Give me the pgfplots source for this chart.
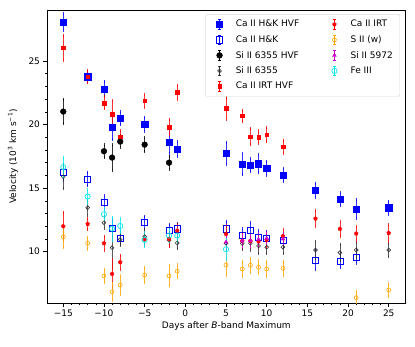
\documentclass[border=0pt]{standalone}
\usepackage{fontspec}
\setmainfont{DejaVu Sans}
\usepackage{pgfplots}
\pgfplotsset{compat=1.18}
\usetikzlibrary{plotmarks}

\definecolor{mplorange}{RGB}{255,165,0}
\definecolor{mplmag}{RGB}{200,0,200}
\definecolor{mplcyan}{RGB}{0,230,240}

% one style per line species
\pgfplotsset{
  sHKH/.style={blue, mark=square*, mark size=3.1pt},
  sHK/.style={blue, mark=square, mark size=3.1pt, mark options={line width=0.6pt}},
  sSiH/.style={black, mark=*, mark size=2.9pt},
  sSi/.style={black!80, mark=o, mark size=1.9pt, mark options={line width=0.6pt}},
  sIRTH/.style={red, mark=square*, mark size=1.8pt},
  sIRT/.style={red, mark=pentagon*, mark size=2pt},
  sSII/.style={mplorange, mark=o, mark size=2pt, mark options={line width=0.6pt}},
  sSi59/.style={mplmag, mark=triangle*, mark size=2.2pt},
  sFe/.style={mplcyan, mark=o, mark size=2.6pt, mark options={line width=0.7pt}},
  errs/.style={only marks, forget plot,
    error bars/.cd, y dir=both, y explicit,
    error bar style={line width=0.7pt, opacity=0.8},
    error mark options={mark size=1.5pt, line width=0.6pt}},
}

\begin{document}
\begin{tikzpicture}
\useasboundingbox (-47pt,-43pt) rectangle (368pt,303pt);
\begin{axis}[
  scale only axis, width=358pt, height=293pt,
  xmin=-17, xmax=27, ymin=5.96, ymax=29.01,
  xtick={-15,-10,-5,0,5,10,15,20,25},
  xticklabels={−15,−10,−5,0,5,10,15,20,25},
  ytick={10,15,20,25},
  yticklabels={10,15,20,25},
  minor x tick num=4, minor y tick num=4,
  tick pos=left, tick align=outside,
  major tick length=3.5pt, minor tick length=2pt,
  tick style={black, line width=0.6pt},
  axis line style={line width=0.8pt},
  tick label style={font=\fontsize{9}{10}\selectfont},
  label style={font=\fontsize{9}{10}\selectfont},
  xlabel={Days after \textit{B}-band Maximum},
  ylabel={Velocity (10\textsuperscript{3} km s\textsuperscript{−1})},
  xlabel style={at={(axis description cs:0.501,-0.0785)}, anchor=center},
  ylabel style={at={(axis description cs:-0.095,0.5)}, anchor=center},
  legend columns=2,
  legend cell align=left,
  legend style={at={(axis description cs:0.986,0.986)}, anchor=north east,
    draw=gray!30, rounded corners=1.5pt, font=\fontsize{9}{10}\selectfont,
    row sep=3.2pt, inner xsep=5pt, inner ysep=4pt,
    /tikz/every even column/.append style={column sep=24pt}},
  legend image code/.code={
    \path (0pt,0pt) (23pt,0pt);
    \draw[#1, mark=none, line width=0.6pt] (9pt,-4.6pt) -- (9pt,4.6pt)
      (7.8pt,-4.6pt) -- (10.2pt,-4.6pt) (7.8pt,4.6pt) -- (10.2pt,4.6pt);
    \draw[#1] plot coordinates {(9pt,0pt)};
  },
]

% Ca II H&K HVF
\addplot[sHKH, errs] coordinates {
  (-15,28.05) +- (0,0.65) (-12,23.77) +- (0,0.43) (-10,22.80) +- (0,0.60)
  (-9,19.79) +- (0,0.97) (-8,20.50) +- (0,0.50) (-5,20.02) +- (0,0.55)
  (-2,18.58) +- (0,0.85) (-1,18.08) +- (0,0.58) (5,17.74) +- (0,0.85)
  (7,16.88) +- (0,0.83) (8,16.80) +- (0,0.52) (9,16.92) +- (0,0.72)
  (10,16.56) +- (0,0.56) (12,16.03) +- (0,0.54) (16,14.83) +- (0,0.54)
  (19,14.12) +- (0,0.52) (21,13.36) +- (0,0.73) (25,13.46) +- (0,0.50)};
% Ca II H&K
\addplot[sHK, errs] coordinates {
  (-15,16.22) +- (0,0.60) (-12,15.72) +- (0,0.52) (-10,13.86) +- (0,0.52)
  (-9,11.81) +- (0,0.70) (-8,11.05) +- (0,0.50) (-5,12.28) +- (0,0.50)
  (-2,11.65) +- (0,0.50) (-1,11.79) +- (0,0.45) (5,11.79) +- (0,0.60)
  (7,11.26) +- (0,0.55) (8,11.71) +- (0,0.55) (9,11.16) +- (0,0.50)
  (10,11.05) +- (0,0.50) (12,10.92) +- (0,0.50) (16,9.35) +- (0,0.75)
  (19,9.27) +- (0,0.55) (21,9.58) +- (0,0.50)};
% Si II 6355 HVF
\addplot[sSiH, errs] coordinates {
  (-15,21.02) +- (0,0.97) (-10,17.90) +- (0,0.52) (-9,17.40) +- (0,1.00)
  (-8,18.66) +- (0,0.45) (-5,18.42) +- (0,0.55) (-2,17.00) +- (0,0.52)};
% Si II 6355
\addplot[sSi, errs] coordinates {
  (-15,15.90) +- (0,0.95) (-12,13.46) +- (0,0.60) (-10,12.28) +- (0,0.45)
  (-9,10.31) +- (0,1.60) (-8,10.95) +- (0,0.50) (-5,11.18) +- (0,0.60)
  (-2,10.90) +- (0,0.50) (-1,10.68) +- (0,0.45) (5,10.66) +- (0,0.60)
  (7,10.63) +- (0,0.50) (8,10.66) +- (0,0.55) (9,10.45) +- (0,0.60)
  (10,10.35) +- (0,0.50) (12,10.35) +- (0,0.50) (16,10.13) +- (0,0.70)
  (19,9.92) +- (0,0.65) (21,10.13) +- (0,0.60) (25,10.13) +- (0,0.52)};
% Ca II IRT HVF
\addplot[sIRTH, errs] coordinates {
  (-15,26.05) +- (0,0.98) (-12,23.77) +- (0,0.50) (-10,21.70) +- (0,0.47)
  (-9,20.83) +- (0,1.05) (-8,19.03) +- (0,0.47) (-5,21.86) +- (0,0.50)
  (-2,19.81) +- (0,0.62) (-1,22.54) +- (0,0.56) (5,21.28) +- (0,0.85)
  (7,20.68) +- (0,0.46) (8,19.05) +- (0,0.66) (9,19.02) +- (0,0.50)
  (10,19.20) +- (0,0.56) (12,18.26) +- (0,0.52)};
% Ca II IRT
\addplot[sIRT, errs] coordinates {
  (-15,12.00) +- (0,1.09) (-12,12.18) +- (0,0.46) (-10,10.66) +- (0,0.55)
  (-9,8.25) +- (0,1.10) (-8,9.17) +- (0,0.55) (-5,10.98) +- (0,0.50)
  (-2,11.00) +- (0,0.60) (-1,11.65) +- (0,0.50) (5,11.39) +- (0,0.70)
  (7,10.85) +- (0,0.50) (8,10.84) +- (0,0.50) (9,10.79) +- (0,0.50)
  (10,10.92) +- (0,0.50) (12,11.23) +- (0,0.50) (16,12.60) +- (0,0.60)
  (19,11.79) +- (0,0.56) (21,11.42) +- (0,0.52) (25,11.47) +- (0,0.66)};
% S II (w)
\addplot[sSII, errs] coordinates {
  (-15,11.16) +- (0,0.85) (-12,10.66) +- (0,0.47) (-10,8.09) +- (0,0.52)
  (-9,6.85) +- (0,0.66) (-8,7.38) +- (0,0.72) (-5,8.17) +- (0,0.60)
  (-2,8.09) +- (0,0.79) (-1,8.46) +- (0,0.52) (5,8.95) +- (0,0.79)
  (7,8.64) +- (0,0.60) (8,8.93) +- (0,0.55) (9,8.77) +- (0,0.50)
  (10,8.64) +- (0,0.60) (12,8.69) +- (0,0.55) (21,6.38) +- (0,0.50)
  (25,6.99) +- (0,0.50)};
% Si II 5972
\addplot[sSi59, errs] coordinates {
  (5,10.75) +- (0,0.50) (7,10.84) +- (0,0.45) (8,10.87) +- (0,0.45)
  (9,10.97) +- (0,0.45) (10,11.05) +- (0,0.45) (12,11.00) +- (0,0.45)};
% Fe III
\addplot[sFe, errs] coordinates {
  (-15,16.65) +- (0,0.76) (-12,14.33) +- (0,0.52) (-10,12.94) +- (0,0.45)
  (-9,11.81) +- (0,0.90) (-8,12.02) +- (0,0.55) (-5,10.92) +- (0,0.55)
  (-2,11.26) +- (0,0.50) (-1,11.26) +- (0,0.50) (5,10.19) +- (0,0.80)};

% legend, filled row by row so that it reads column by column
\addlegendimage{sHKH}  \addlegendentry{Ca II H\&K HVF}
\addlegendimage{sIRT}  \addlegendentry{Ca II IRT}
\addlegendimage{sHK}   \addlegendentry{Ca II H\&K}
\addlegendimage{sSII}  \addlegendentry{S II (w)}
\addlegendimage{sSiH}  \addlegendentry{Si II 6355 HVF}
\addlegendimage{sSi59} \addlegendentry{Si II 5972}
\addlegendimage{sSi}   \addlegendentry{Si II 6355}
\addlegendimage{sFe}   \addlegendentry{Fe III}
\addlegendimage{sIRTH} \addlegendentry{Ca II IRT HVF}
\end{axis}
\end{tikzpicture}
\end{document}
